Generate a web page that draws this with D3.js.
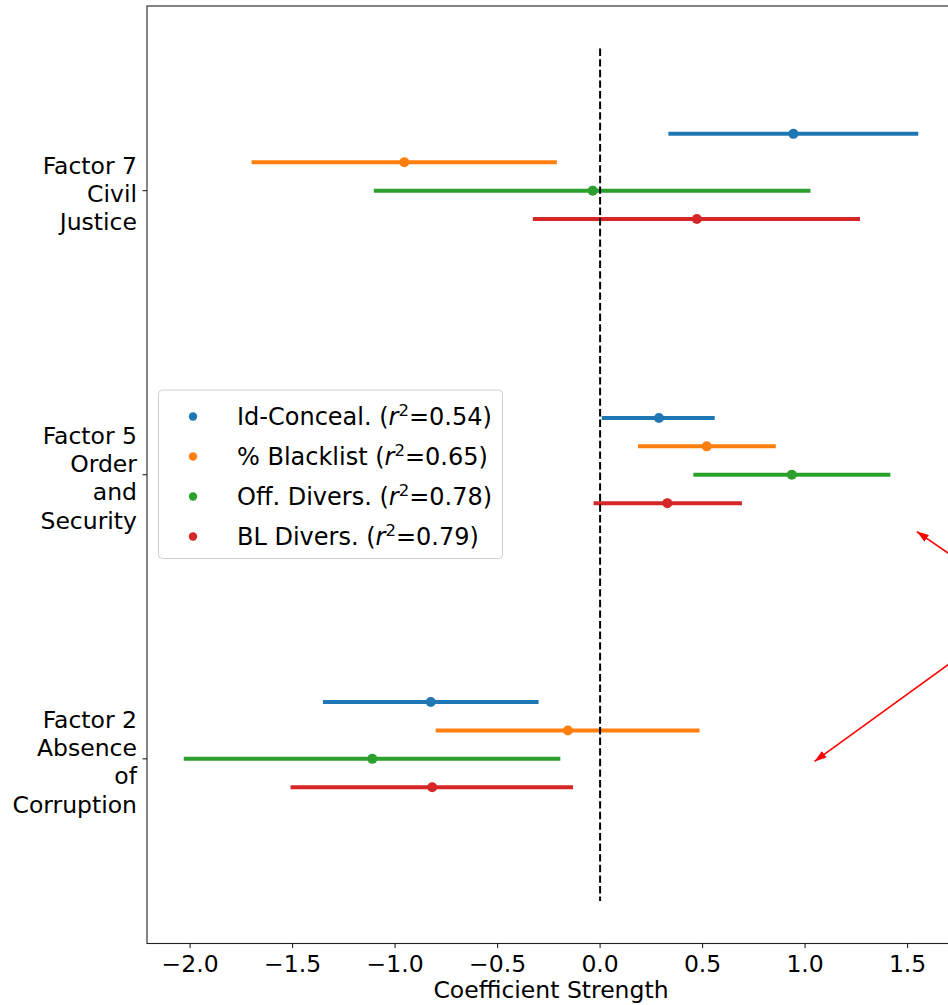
<!DOCTYPE html>
<html>
<head>
<meta charset="utf-8">
<script src="https://cdn.jsdelivr.net/npm/d3@7"></script>
<style>
  html, body { margin: 0; padding: 0; background: #fff; }
  svg { display: block; font-family: "DejaVu Sans", sans-serif; }
</style>
</head>
<body>
<svg id="chart" width="948" height="1005"></svg>
<script>
// Factors, listed bottom to top on the y axis
const factors = [
  ["Factor 2", "Absence", "of", "Corruption"],
  ["Factor 5", "Order", "and", "Security"],
  ["Factor 7", "Civil", "Justice"]
];

// Models and their vertical offsets within each factor row
const seriesNames = [
  "Id-Conceal. (r2=0.54)",
  "% Blacklist (r2=0.65)",
  "Off. Divers. (r2=0.78)",
  "BL Divers. (r2=0.79)"
];
const legendParts = [
  ["Id-Conceal. (", "0.54)"],
  ["% Blacklist (", "0.65)"],
  ["Off. Divers. (", "0.78)"],
  ["BL Divers. (", "0.79)"]
];
const seriesColors = ["#1f77b4", "#ff7f0e", "#2ca02c", "#d62728"];
const seriesOffsets = [0.2, 0.1, 0.0, -0.1];

// Coefficient estimates, one entry per factor (Factor 2, Factor 5, Factor 7)
const idConcealCoef   = [-0.826, 0.287, 0.943];
const idConcealLow    = [-1.352, 0.008, 0.333];
const idConcealHigh   = [-0.300, 0.559, 1.552];

const blacklistCoef   = [-0.157, 0.520, -0.955];
const blacklistLow    = [-0.802, 0.185, -1.700];
const blacklistHigh   = [ 0.485, 0.857, -0.211];

const offDiversCoef   = [-1.111, 0.935, -0.036];
const offDiversLow    = [-2.031, 0.455, -1.104];
const offDiversHigh   = [-0.194, 1.416, 1.026];

const blDiversCoef    = [-0.819, 0.328, 0.472];
const blDiversLow     = [-1.510, -0.032, -0.328];
const blDiversHigh    = [-0.132, 0.692, 1.268];

const xTicks = [-2.0, -1.5, -1.0, -0.5, 0.0, 0.5, 1.0, 1.5];

// Annotation arrows (tail -> head) in data coordinates
const arrowTail = [2.083, 0.533];
const arrowHeads = [[1.545, 0.80], [1.046, -0.009]];

const seriesData = [
  { coef: idConcealCoef, low: idConcealLow, high: idConcealHigh },
  { coef: blacklistCoef, low: blacklistLow, high: blacklistHigh },
  { coef: offDiversCoef, low: offDiversLow, high: offDiversHigh },
  { coef: blDiversCoef,  low: blDiversLow,  high: blDiversHigh }
];

const svg = d3.select("#chart");
const axLeft = 147, axRight = 955, axTop = 6, axBottom = 943.5;

// x domain: data range padded by 5% on each side
const allLow = d3.min(seriesData, s => d3.min(s.low));
const allHigh = d3.max(seriesData, s => d3.max(s.high));
const pad = (allHigh - allLow) * 0.05;
const x = d3.scaleLinear().domain([allLow - pad, allHigh + pad]).range([axLeft, axRight]);
const y = d3.scaleLinear().domain([-0.65, 2.65]).range([axBottom, axTop]);

const plot = svg.append("g");

// Error bars and point estimates
seriesData.forEach((s, si) => {
  const rows = factors.map((f, fi) => ({
    pos: fi + seriesOffsets[si], coef: s.coef[fi], low: s.low[fi], high: s.high[fi]
  }));
  const g = plot.append("g");
  g.selectAll("line").data(rows).join("line")
    .attr("x1", d => x(d.low)).attr("x2", d => x(d.high))
    .attr("y1", d => y(d.pos)).attr("y2", d => y(d.pos))
    .attr("stroke", seriesColors[si]).attr("stroke-width", 4);
  g.selectAll("circle").data(rows).join("circle")
    .attr("cx", d => x(d.coef)).attr("cy", d => y(d.pos)).attr("r", 5)
    .attr("fill", seriesColors[si]);
});

// Zero reference line
plot.append("line")
  .attr("x1", x(0)).attr("x2", x(0))
  .attr("y1", y(2.5)).attr("y2", y(-0.5))
  .attr("stroke", "#000").attr("stroke-width", 2)
  .attr("stroke-dasharray", "7.4,3.2");

// Spines
const spine = svg.append("g").attr("fill", "none").attr("stroke", "#222").attr("stroke-width", 1.1);
spine.append("rect")
  .attr("x", axLeft).attr("y", axTop)
  .attr("width", axRight - axLeft).attr("height", axBottom - axTop);

// x axis
const xAxis = svg.append("g").attr("transform", `translate(0,${axBottom})`);
xAxis.selectAll("line").data(xTicks).join("line")
  .attr("x1", d => x(d)).attr("x2", d => x(d))
  .attr("y1", 0).attr("y2", 4.5)
  .attr("stroke", "#222").attr("stroke-width", 1.1);
xAxis.selectAll("text").data(xTicks).join("text")
  .attr("x", d => x(d)).attr("y", 28.5)
  .attr("text-anchor", "middle").attr("font-size", 23.5).attr("fill", "#000")
  .text(d => d3.format(".1f")(d).replace("-", "\u2212"));

svg.append("text")
  .attr("x", (axLeft + axRight) / 2).attr("y", 998)
  .attr("text-anchor", "middle").attr("font-size", 23.5).attr("fill", "#000")
  .text("Coefficient Strength");

// y axis
const yAxis = svg.append("g");
factors.forEach((lines, fi) => {
  const ty = y(fi);
  yAxis.append("line")
    .attr("x1", axLeft - 4.5).attr("x2", axLeft)
    .attr("y1", ty).attr("y2", ty)
    .attr("stroke", "#222").attr("stroke-width", 1.1);
  const t = yAxis.append("text")
    .attr("text-anchor", "end").attr("font-size", 23.5).attr("fill", "#000");
  lines.forEach((ln, li) => {
    t.append("tspan")
      .attr("x", 137)
      .attr("y", ty + 11.5 + (li - (lines.length - 1) / 2) * 28.3)
      .text(ln);
  });
});

// Legend
const legend = svg.append("g");
legend.append("rect")
  .attr("x", 158.5).attr("y", 390).attr("width", 344).attr("height", 168.5)
  .attr("rx", 4).attr("fill", "#fff").attr("fill-opacity", 0.8)
  .attr("stroke", "#d0d0d0").attr("stroke-width", 1);
seriesNames.forEach((name, i) => {
  const ry = 416.5 + i * 40;
  legend.append("circle")
    .attr("cx", 193).attr("cy", ry).attr("r", 4.2)
    .attr("fill", seriesColors[i]);
  const t = legend.append("text")
    .attr("x", 237).attr("y", ry + 8.5)
    .attr("font-size", 24).attr("fill", "#000");
  t.append("tspan").text(legendParts[i][0]);
  t.append("tspan").attr("font-style", "italic").text("r");
  t.append("tspan").attr("font-size", 16.5).attr("dy", -9).text("2");
  t.append("tspan").attr("dy", 9).text("=" + legendParts[i][1]);
});

// Annotation arrows
const defs = svg.append("defs");
defs.append("marker")
  .attr("id", "arrowhead")
  .attr("viewBox", "0 0 12 8")
  .attr("refX", 12).attr("refY", 4)
  .attr("markerWidth", 12).attr("markerHeight", 8)
  .attr("markerUnits", "userSpaceOnUse")
  .attr("orient", "auto")
  .append("path").attr("d", "M0,0 L12,4 L0,8 Z").attr("fill", "#ff0000");

svg.append("g").selectAll("line").data(arrowHeads).join("line")
  .attr("x1", x(arrowTail[0])).attr("y1", y(arrowTail[1]))
  .attr("x2", d => x(d[0])).attr("y2", d => y(d[1]))
  .attr("stroke", "#ff0000").attr("stroke-width", 1.6)
  .attr("marker-end", "url(#arrowhead)");
</script>
</body>
</html>
